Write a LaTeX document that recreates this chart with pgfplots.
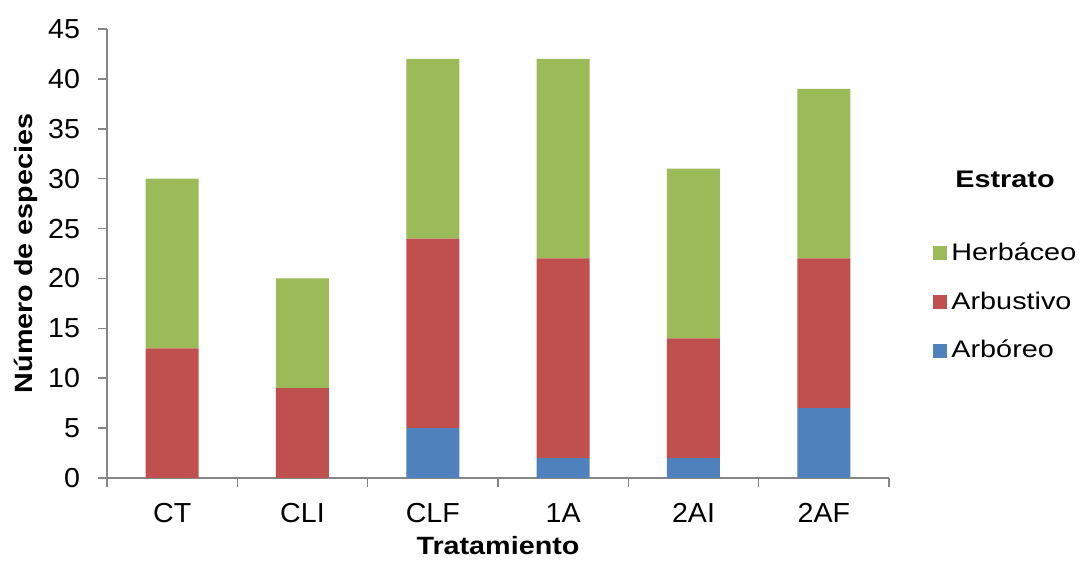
\documentclass[border=0pt]{standalone}
\usepackage{fontspec}
\setmainfont{Liberation Sans}
\newfontfamily\tickfont[FakeStretch=1.04]{Liberation Sans}
\newfontfamily\labfont[FakeStretch=1.15]{Liberation Sans}
\newfontfamily\legfont[FakeStretch=1.2]{Liberation Sans}
\usepackage{pgfplots}
\usepackage{pgfplotstable}
\pgfplotsset{compat=1.18}

\definecolor{herbcol}{HTML}{9BBB59}
\definecolor{arbucol}{HTML}{C0504D}
\definecolor{arbcol}{HTML}{4F81BD}
\definecolor{axisgray}{HTML}{868686}

% square legend markers
\pgfplotsset{sqlegend/.style={legend image code/.code={\fill[##1] (0pt,-3.5pt) rectangle (7pt,3.5pt);}}}

% Número de especies por estrato y tratamiento
\pgfplotstableread{
x arb arbu herb
0 0 13 17
1 0 9 11
2 5 19 18
3 2 20 20
4 2 12 17
5 7 15 17
}\datos

\begin{document}
\begin{tikzpicture}[x=1pt,y=1pt]
\useasboundingbox (0,0) rectangle (541.5,282.5);
\begin{axis}[
  at={(53.5pt,43.5pt)}, anchor=south west,
  scale only axis, width=391pt, height=224.5pt,
  ybar stacked, bar width=26.5pt,
  xmin=-0.5, xmax=5.5, ymin=0, ymax=45,
  xtick={0,...,5}, xticklabels={CT,CLI,CLF,1A,2AI,2AF},
  minor xtick={-0.5,0.5,...,5.5},
  ytick={0,5,...,45},
  axis x line*=bottom, axis y line*=left,
  axis line style={draw=axisgray, line width=0.75pt},
  tick align=outside, major tick length=4.5pt, minor tick length=4.5pt,
  tick style={axisgray, line width=0.75pt},
  major x tick style={draw=none},
  ticklabel style={font=\tickfont\fontsize{13.75}{16}\selectfont},
  /pgf/number format/assume math mode=true,
  xticklabel style={anchor=base, yshift=-18pt},
  yticklabel style={xshift=-5.5pt},
  xlabel={Tratamiento},
  xlabel style={font=\labfont\bfseries\fontsize{12.5}{15}\selectfont, anchor=base, at={(axis description cs:0.5,-0.1715)}},
  ylabel={Número de especies},
  ylabel style={font=\labfont\bfseries\fontsize{12.5}{15}\selectfont, anchor=base, at={(axis description cs:-0.0959,0.5)}},
  reverse legend,
  legend style={draw=none, fill=none, inner sep=0pt,
    at={(axis description cs:1.0563,0.392)}, anchor=west,
    font=\legfont\fontsize{12}{14}\selectfont, row sep=10pt,
    cells={anchor=west}},
]
\addplot[fill=arbcol, draw=none, sqlegend] table[x=x,y=arb]{\datos};
\addlegendentry{Arbóreo}
\addplot[fill=arbucol, draw=none, sqlegend] table[x=x,y=arbu]{\datos};
\addlegendentry{Arbustivo}
\addplot[fill=herbcol, draw=none, sqlegend] table[x=x,y=herb]{\datos};
\addlegendentry{Herbáceo}
\end{axis}
\node[font=\legfont\bfseries\fontsize{12}{14}\selectfont] at (502.5,193) {Estrato};
\end{tikzpicture}
\end{document}
